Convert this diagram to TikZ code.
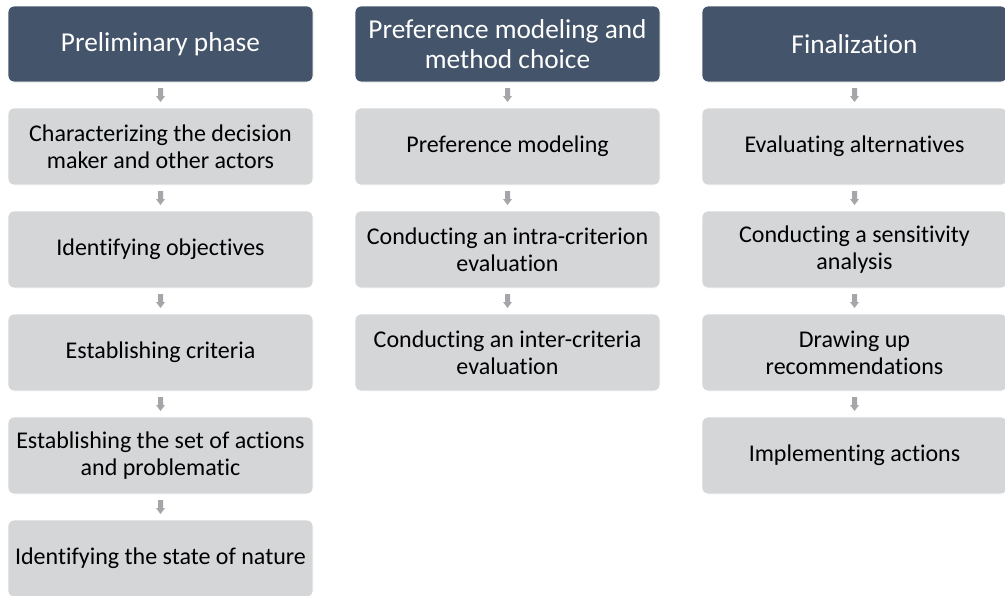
\documentclass[tikz,border=0pt]{standalone}
\usepackage{fontspec}
\setmainfont{Carlito}[Ligatures=NoCommon]
\usetikzlibrary{calc}
\definecolor{headfill}{HTML}{44546A}
\definecolor{boxfill}{HTML}{D5D6D8}
\definecolor{arrowgray}{HTML}{A5A6A9}
\tikzset{
  header/.style={rectangle, rounded corners=6pt, fill=headfill, draw=white, line width=0.8pt,
    minimum width=305pt, minimum height=76pt, align=center, text=white,
    font=\fontsize{27.3}{30}\selectfont, inner sep=2pt},
  stepbox/.style={rectangle, rounded corners=6pt, fill=boxfill, draw=white, line width=0.8pt,
    minimum width=305pt, minimum height=77pt, align=center, text=black,
    font=\fontsize{24}{27}\selectfont, inner sep=2pt}
}
% small block arrow centred between two stacked nodes
\newcommand\flowarrow[2]{%
  \path ($(#1.south)!0.5!(#2.north)$) coordinate (m);
  \fill[arrowgray] ($(m)+(-2.5,-7)$) -- ($(m)+(2.5,-7)$) -- ($(m)+(2.5,1)$) -- ($(m)+(4.5,1)$)
    -- ($(m)+(0,7)$) -- ($(m)+(-4.5,1)$) -- ($(m)+(-2.5,1)$) -- cycle;}
\begin{document}
\begin{tikzpicture}[x=1pt, y=-1pt]
\clip (0,0) rectangle (1005,595);
\fill[white] (0,0) rectangle (1005,595);
% column 1
\node[header]  (h1) at (160.5,44) {Preliminary phase};
\node[stepbox] (a1) at (160.5,146.5) {Characterizing the decision\\maker and other actors};
\node[stepbox] (a2) at (160.5,249.5) {Identifying objectives};
\node[stepbox] (a3) at (160.5,352.5) {Establishing criteria};
\node[stepbox] (a4) at (160.5,455.5) {Establishing the set of actions\\and problematic};
\node[stepbox] (a5) at (160.5,558.5) {Identifying the state of nature};
\flowarrow{h1}{a1}
\flowarrow{a1}{a2}
\flowarrow{a2}{a3}
\flowarrow{a3}{a4}
\flowarrow{a4}{a5}
% column 2
\node[header]  (h2) at (507.5,44) {Preference modeling and\\method choice};
\node[stepbox] (b1) at (507.5,146.5) {Preference modeling};
\node[stepbox] (b2) at (507.5,249.5) {Conducting an intra-criterion\\evaluation};
\node[stepbox] (b3) at (507.5,352.5) {Conducting an inter-criteria\\evaluation};
\flowarrow{h2}{b1}
\flowarrow{b1}{b2}
\flowarrow{b2}{b3}
% column 3
\node[header]  (h3) at (854.5,44) {Finalization};
\node[stepbox] (c1) at (854.5,146.5) {Evaluating alternatives};
\node[stepbox] (c2) at (854.5,249.5) {Conducting a sensitivity\\analysis};
\node[stepbox] (c3) at (854.5,352.5) {Drawing up\\recommendations};
\node[stepbox] (c4) at (854.5,455.5) {Implementing actions};
\flowarrow{h3}{c1}
\flowarrow{c1}{c2}
\flowarrow{c2}{c3}
\flowarrow{c3}{c4}
\end{tikzpicture}
\end{document}
